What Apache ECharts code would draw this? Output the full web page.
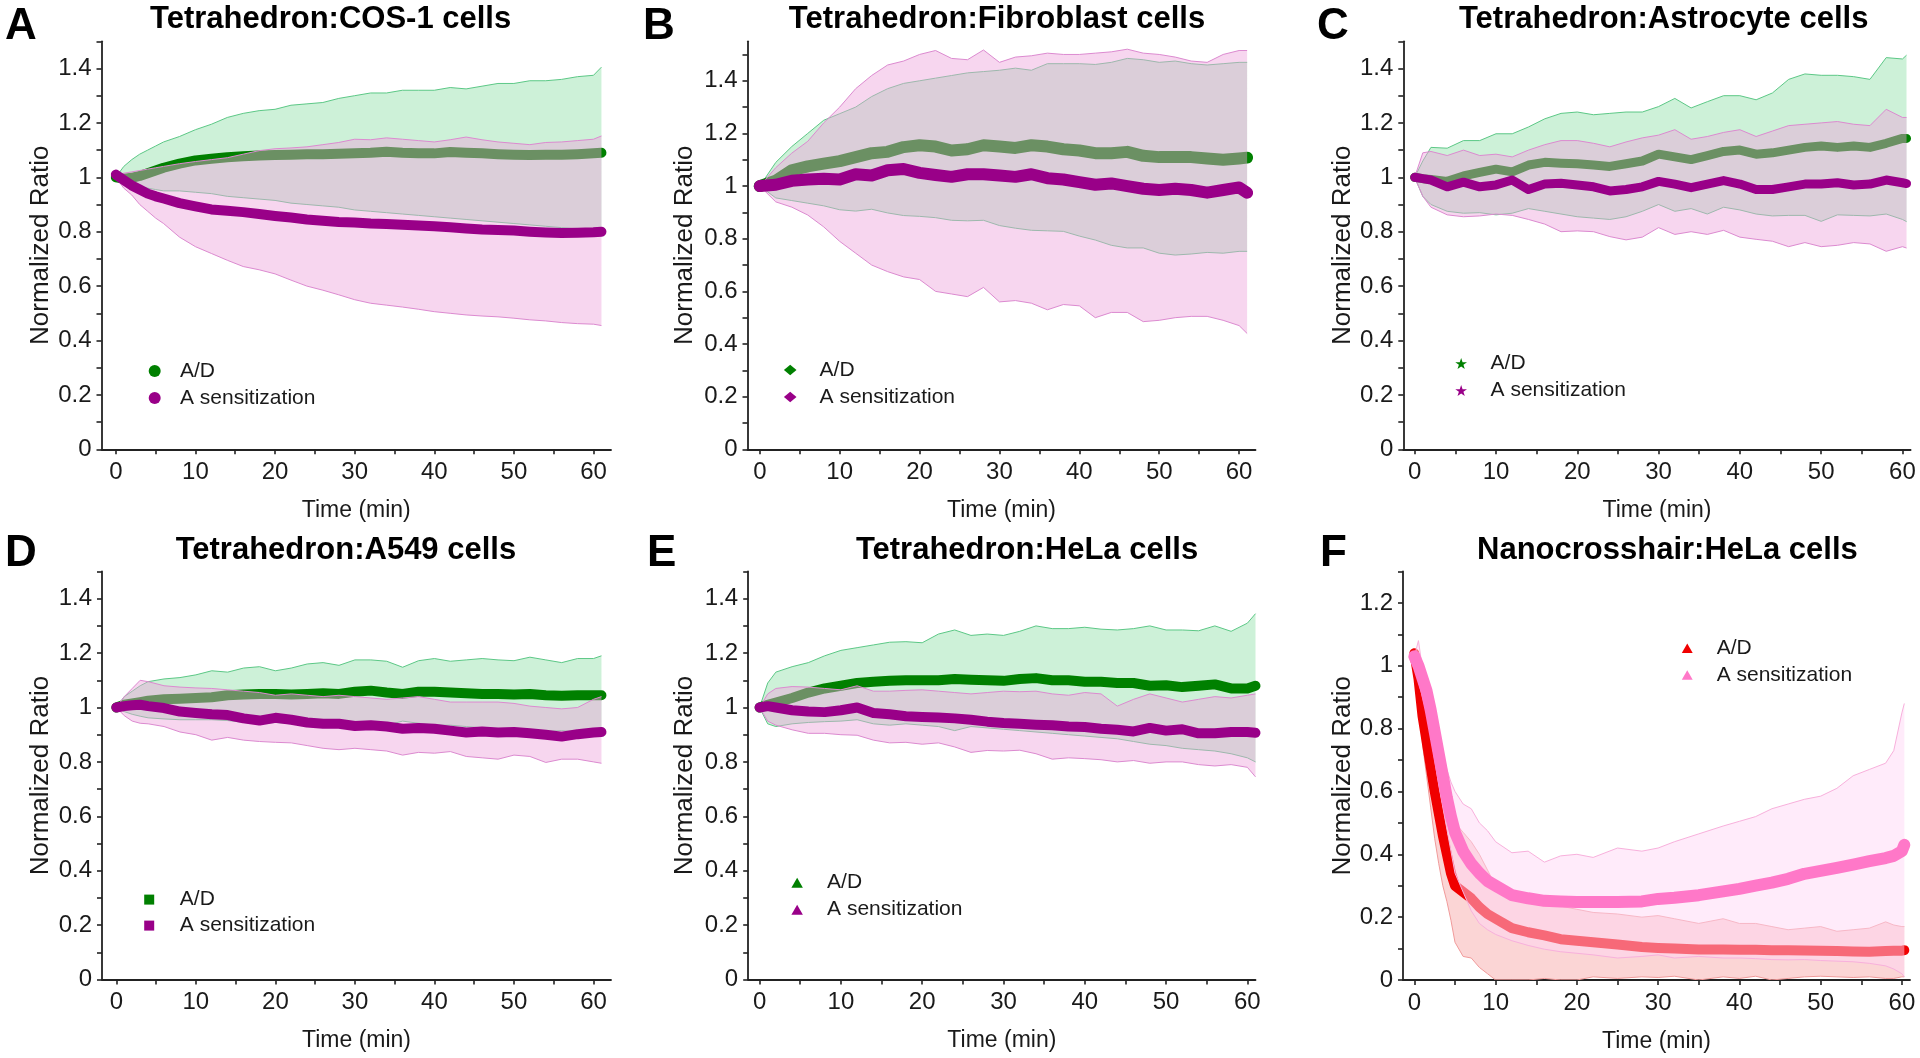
<!DOCTYPE html>
<html><head><meta charset="utf-8">
<script src="https://cdn.jsdelivr.net/npm/echarts@6/dist/echarts.min.js"></script>
<style>html,body{margin:0;padding:0;background:#fff}#chart{width:1920px;height:1058px}</style>
</head><body><div id="chart"></div>
<script>
// ---------------- DATA ----------------
// Panel A : Tetrahedron:COS-1 cells
const T_A = [0,1,2,3,4,5,6,8,10,12,14,16,18,20,22,24,26,28,30,32,34,36,38,40,42,44,46,48,50,52,54,56,58,60,61];
const A_AD_mean = [1.0,0.995,0.998,1.005,1.015,1.025,1.035,1.05,1.062,1.068,1.074,1.077,1.08,1.082,1.083,1.085,1.085,1.087,1.088,1.09,1.094,1.09,1.088,1.088,1.093,1.09,1.088,1.085,1.083,1.082,1.083,1.083,1.085,1.088,1.09];
const A_AD_hi = [1.0,1.04,1.065,1.085,1.1,1.115,1.13,1.15,1.175,1.195,1.22,1.235,1.245,1.25,1.265,1.27,1.275,1.29,1.3,1.31,1.31,1.32,1.32,1.32,1.33,1.325,1.335,1.345,1.345,1.355,1.355,1.36,1.37,1.375,1.405];
const A_AD_lo = [1.0,0.99,0.975,0.965,0.96,0.955,0.95,0.95,0.945,0.94,0.93,0.925,0.92,0.915,0.905,0.9,0.895,0.89,0.88,0.875,0.87,0.865,0.86,0.855,0.85,0.845,0.84,0.835,0.83,0.825,0.82,0.815,0.81,0.805,0.8];
const A_AS_mean = [1.01,0.99,0.97,0.955,0.94,0.93,0.922,0.905,0.893,0.882,0.877,0.872,0.865,0.858,0.852,0.845,0.84,0.836,0.834,0.83,0.828,0.826,0.823,0.82,0.816,0.812,0.808,0.806,0.804,0.8,0.797,0.795,0.796,0.798,0.8];
const A_AS_hi = [1.01,1.015,1.02,1.025,1.03,1.035,1.04,1.05,1.058,1.065,1.072,1.085,1.098,1.105,1.108,1.112,1.12,1.128,1.14,1.138,1.145,1.14,1.135,1.13,1.138,1.148,1.138,1.13,1.125,1.12,1.128,1.13,1.135,1.14,1.152];
const A_AS_lo = [1.0,0.96,0.935,0.9,0.875,0.85,0.83,0.78,0.745,0.72,0.695,0.672,0.66,0.645,0.622,0.6,0.585,0.568,0.55,0.537,0.53,0.523,0.515,0.506,0.5,0.494,0.49,0.487,0.482,0.476,0.472,0.466,0.462,0.46,0.455];

// Panel B : Tetrahedron:Fibroblast cells
const T_B = [0,2,4,6,8,10,12,14,16,18,20,22,24,26,28,30,32,34,36,38,40,42,44,46,48,50,52,54,56,58,60,61];
const B_AD_mean = [1.0,1.02,1.06,1.075,1.085,1.095,1.11,1.125,1.13,1.148,1.155,1.15,1.135,1.14,1.155,1.15,1.145,1.155,1.15,1.14,1.135,1.125,1.125,1.13,1.115,1.11,1.11,1.11,1.105,1.1,1.105,1.108];
const B_AD_hi = [1.0,1.09,1.15,1.2,1.25,1.275,1.3,1.34,1.37,1.39,1.4,1.41,1.42,1.43,1.435,1.44,1.448,1.44,1.465,1.465,1.465,1.462,1.47,1.485,1.48,1.47,1.475,1.465,1.46,1.465,1.47,1.47];
const B_AD_lo = [1.0,0.955,0.945,0.935,0.925,0.91,0.905,0.912,0.898,0.888,0.885,0.88,0.87,0.868,0.87,0.85,0.84,0.832,0.83,0.828,0.81,0.795,0.775,0.765,0.765,0.745,0.738,0.742,0.748,0.745,0.752,0.752];
const B_AS_mean = [1.0,1.005,1.02,1.025,1.028,1.025,1.045,1.04,1.06,1.065,1.05,1.042,1.035,1.045,1.045,1.04,1.035,1.045,1.03,1.025,1.015,1.005,1.01,1.0,0.99,0.985,0.99,0.985,0.975,0.985,0.995,0.975];
const B_AS_hi = [1.0,1.07,1.125,1.17,1.24,1.3,1.37,1.42,1.46,1.475,1.5,1.515,1.485,1.48,1.517,1.47,1.49,1.495,1.505,1.5,1.5,1.505,1.51,1.52,1.505,1.5,1.49,1.475,1.47,1.5,1.515,1.515];
const B_AS_lo = [1.0,0.94,0.92,0.89,0.845,0.79,0.745,0.7,0.675,0.655,0.645,0.6,0.59,0.58,0.615,0.56,0.565,0.555,0.53,0.55,0.545,0.5,0.52,0.52,0.485,0.49,0.5,0.505,0.505,0.49,0.47,0.44];

// Panel C : Tetrahedron:Astrocyte cells
const T_C = [0,1,2,4,6,8,10,12,14,16,18,20,22,24,26,28,30,32,34,36,38,40,42,44,46,48,50,52,54,56,58,60,60.5];
const C_AD_mean = [1.0,0.995,0.992,0.985,1.005,1.018,1.03,1.02,1.045,1.055,1.052,1.05,1.045,1.04,1.05,1.06,1.085,1.075,1.065,1.08,1.095,1.1,1.085,1.09,1.1,1.11,1.115,1.11,1.115,1.11,1.125,1.143,1.143];
const C_AD_hi = [1.0,1.06,1.11,1.107,1.135,1.135,1.16,1.16,1.185,1.215,1.235,1.24,1.23,1.235,1.24,1.24,1.26,1.29,1.255,1.278,1.3,1.3,1.285,1.31,1.36,1.38,1.375,1.375,1.37,1.36,1.44,1.435,1.449];
const C_AD_lo = [1.0,0.93,0.9,0.875,0.868,0.87,0.862,0.868,0.885,0.875,0.865,0.855,0.85,0.845,0.855,0.875,0.9,0.875,0.885,0.865,0.89,0.88,0.865,0.858,0.86,0.86,0.838,0.862,0.86,0.858,0.865,0.845,0.837];
const C_AS_mean = [1.0,0.995,0.99,0.965,0.982,0.965,0.972,0.99,0.955,0.975,0.978,0.972,0.965,0.95,0.955,0.965,0.985,0.975,0.962,0.975,0.988,0.975,0.955,0.955,0.965,0.975,0.975,0.98,0.972,0.975,0.99,0.98,0.977];
const C_AS_hi = [1.0,1.09,1.095,1.08,1.1,1.08,1.085,1.075,1.1,1.12,1.135,1.135,1.125,1.112,1.13,1.145,1.155,1.175,1.14,1.15,1.165,1.175,1.15,1.17,1.19,1.195,1.2,1.205,1.195,1.19,1.25,1.22,1.22];
const C_AS_lo = [1.0,0.93,0.89,0.862,0.855,0.858,0.865,0.86,0.845,0.828,0.8,0.803,0.8,0.782,0.77,0.78,0.815,0.79,0.8,0.79,0.805,0.78,0.772,0.765,0.745,0.76,0.745,0.75,0.76,0.755,0.728,0.745,0.74];

// Panel D : Tetrahedron:A549 cells
const T_D = [0,1,2,3,4,6,8,10,12,14,16,18,20,22,24,26,28,30,32,34,36,38,40,42,44,46,48,50,52,54,56,58,60,61];
const D_AD_mean = [1.0,1.01,1.015,1.02,1.025,1.03,1.032,1.035,1.038,1.045,1.048,1.05,1.05,1.048,1.05,1.052,1.05,1.058,1.062,1.055,1.05,1.058,1.058,1.055,1.052,1.05,1.05,1.048,1.05,1.045,1.043,1.045,1.045,1.045];
const D_AD_hi = [1.0,1.04,1.06,1.08,1.095,1.105,1.11,1.12,1.135,1.13,1.145,1.15,1.135,1.145,1.16,1.165,1.155,1.175,1.175,1.17,1.148,1.172,1.18,1.17,1.175,1.18,1.175,1.172,1.185,1.175,1.165,1.18,1.18,1.19];
const D_AD_lo = [1.0,0.985,0.975,0.968,0.962,0.958,0.955,0.955,0.955,0.952,0.945,0.94,0.945,0.94,0.935,0.935,0.93,0.94,0.945,0.935,0.95,0.942,0.935,0.935,0.93,0.925,0.922,0.92,0.915,0.912,0.915,0.91,0.905,0.9];
const D_AS_mean = [1.0,1.005,1.008,1.01,1.005,0.998,0.985,0.98,0.975,0.972,0.96,0.952,0.962,0.955,0.945,0.94,0.94,0.932,0.935,0.93,0.922,0.925,0.922,0.915,0.908,0.912,0.908,0.91,0.905,0.9,0.893,0.902,0.908,0.91];
const D_AS_hi = [1.0,1.04,1.07,1.1,1.095,1.08,1.075,1.072,1.07,1.065,1.06,1.055,1.045,1.05,1.045,1.04,1.045,1.04,1.035,1.03,1.035,1.04,1.03,1.02,1.02,1.02,1.02,1.015,1.005,1.0,0.995,1.0,1.03,1.04];
const D_AS_lo = [1.0,0.97,0.95,0.942,0.94,0.93,0.91,0.9,0.88,0.89,0.88,0.875,0.872,0.87,0.86,0.85,0.845,0.85,0.845,0.84,0.825,0.835,0.832,0.838,0.82,0.815,0.81,0.825,0.82,0.798,0.81,0.81,0.8,0.795];

// Panel E : Tetrahedron:HeLa cells
const T_E = [0,1,2,4,6,8,10,12,14,16,18,20,22,24,26,28,30,32,34,36,38,40,42,44,46,48,50,52,54,56,58,60,61];
const E_AD_mean = [1.0,1.01,1.018,1.035,1.055,1.07,1.08,1.09,1.095,1.098,1.1,1.1,1.1,1.105,1.102,1.1,1.098,1.105,1.108,1.1,1.1,1.095,1.095,1.09,1.09,1.08,1.082,1.075,1.08,1.085,1.07,1.07,1.08];
const E_AD_hi = [1.0,1.09,1.13,1.15,1.165,1.19,1.21,1.22,1.23,1.24,1.242,1.238,1.27,1.285,1.265,1.27,1.265,1.28,1.3,1.29,1.29,1.295,1.288,1.285,1.29,1.3,1.285,1.285,1.282,1.3,1.28,1.31,1.345];
const E_AD_lo = [1.0,0.94,0.93,0.94,0.945,0.948,0.95,0.955,0.94,0.935,0.94,0.935,0.93,0.915,0.93,0.925,0.92,0.915,0.91,0.905,0.9,0.895,0.89,0.885,0.875,0.865,0.86,0.85,0.845,0.84,0.83,0.815,0.8];
const E_AS_mean = [1.0,1.005,1.0,0.99,0.985,0.983,0.99,1.0,0.98,0.975,0.968,0.965,0.963,0.96,0.955,0.948,0.943,0.94,0.937,0.935,0.93,0.928,0.922,0.918,0.912,0.925,0.915,0.92,0.905,0.905,0.91,0.91,0.907];
const E_AS_hi = [1.0,1.05,1.07,1.077,1.075,1.07,1.065,1.08,1.06,1.06,1.063,1.065,1.06,1.055,1.05,1.055,1.06,1.058,1.06,1.05,1.045,1.055,1.05,1.005,1.03,1.05,1.035,1.02,1.03,1.04,1.035,1.045,1.05];
const E_AS_lo = [1.0,0.95,0.935,0.918,0.905,0.905,0.9,0.898,0.88,0.87,0.872,0.865,0.87,0.855,0.835,0.842,0.84,0.843,0.83,0.81,0.815,0.812,0.808,0.8,0.805,0.795,0.8,0.8,0.79,0.785,0.79,0.78,0.745];

// Panel F : Nanocrosshair:HeLa cells
const T_F = [0,0.5,1,1.5,2,2.5,3,3.5,4,4.5,5,6,7,8,9,10,12,14,16,18,20,22,25,28,30,32,35,38,40,42,44,46,48,50,52,54,56,58,59,60,60.3];
const F_AD_mean = [1.04,0.96,0.84,0.76,0.68,0.6,0.53,0.46,0.4,0.34,0.3,0.28,0.26,0.232,0.21,0.195,0.165,0.152,0.142,0.13,0.125,0.12,0.113,0.105,0.102,0.1,0.097,0.097,0.096,0.096,0.095,0.095,0.094,0.093,0.092,0.091,0.09,0.092,0.093,0.093,0.095];
const F_AD_hi = [1.05,1.0,0.93,0.88,0.82,0.76,0.7,0.64,0.58,0.54,0.5,0.47,0.44,0.4,0.35,0.3,0.26,0.245,0.235,0.235,0.225,0.215,0.21,0.2,0.205,0.195,0.18,0.195,0.18,0.18,0.17,0.16,0.165,0.17,0.155,0.16,0.165,0.185,0.175,0.17,0.17];
const F_AD_lo = [1.03,0.92,0.75,0.65,0.55,0.45,0.37,0.3,0.25,0.19,0.12,0.075,0.07,0.04,0.02,0.0,0.0,0.0,0.005,0.0,0.0,0.01,0.005,0.01,0.008,0.012,0.0,0.01,0.005,0.012,0.0,0.005,0.01,0.012,0.01,0.008,0.01,0.005,0.005,0.01,0.01];
const F_AS_mean = [1.03,1.0,0.96,0.92,0.86,0.79,0.72,0.65,0.58,0.52,0.47,0.41,0.37,0.34,0.315,0.3,0.27,0.26,0.252,0.25,0.248,0.248,0.248,0.25,0.258,0.262,0.27,0.282,0.29,0.3,0.31,0.322,0.338,0.347,0.357,0.367,0.378,0.388,0.395,0.41,0.43];
const F_AS_hi = [1.03,1.08,0.99,0.95,0.9,0.84,0.78,0.72,0.67,0.63,0.6,0.56,0.545,0.5,0.475,0.44,0.405,0.41,0.375,0.395,0.4,0.39,0.42,0.41,0.42,0.44,0.465,0.49,0.505,0.52,0.545,0.56,0.575,0.585,0.61,0.65,0.67,0.69,0.73,0.85,0.88];
const F_AS_lo = [1.02,0.95,0.9,0.85,0.78,0.7,0.62,0.55,0.48,0.41,0.34,0.28,0.22,0.18,0.16,0.145,0.125,0.11,0.098,0.09,0.085,0.08,0.07,0.075,0.08,0.07,0.075,0.07,0.07,0.068,0.065,0.064,0.065,0.062,0.06,0.058,0.053,0.045,0.035,0.02,0.01];

// tick values
const X_LABELS = [0,10,20,30,40,50,60];
const X_TICKS = [0,5,10,15,20,25,30,35,40,45,50,55,60];
const Y_LABELS_14 = [0,0.2,0.4,0.6,0.8,1,1.2,1.4];
const Y_TICKS_15 = [0,0.1,0.2,0.3,0.4,0.5,0.6,0.7,0.8,0.9,1,1.1,1.2,1.3,1.4,1.5];
const Y_LABELS_12 = [0,0.2,0.4,0.6,0.8,1,1.2];
const Y_TICKS_13 = [0,0.1,0.2,0.3,0.4,0.5,0.6,0.7,0.8,0.9,1,1.1,1.2,1.3];

const SERIES_NAMES = ['A/D','A sensitization'];

// ---------------- STYLE / LAYOUT ----------------
const FONT = '"Liberation Sans", Arial, Helvetica, sans-serif';
const INK = '#1a1a1a';
const AXIS = '#222222';
const SYM = {
  circle:'path://M50,0A50,50,0,1,1,50,100A50,50,0,1,1,50,0Z',
  diamond:'path://M60,0L120,50L60,100L0,50Z',
  star:'path://M50,0L61.8,35.1L98.9,35.1L68.9,56.8L80.3,91.9L50,70.2L19.7,91.9L31.1,56.8L1.1,35.1L38.2,35.1Z',
  square:'path://M0,0L100,0L100,100L0,100Z',
  triangle:'path://M50,0L100,87L0,87Z'
};
const TETRA = {
  line1:'#008000', line2:'#990088',
  fill1:'rgba(100,210,135,0.32)', edge1:'#5cc886',
  fill2:'rgba(237,164,219,0.45)', edge2:'#dc8ad0'
};
const NANO = {
  line1:'#f00000', line2:'#ff78c8',
  fill1:'rgba(245,150,150,0.4)', edge1:'#f09a9a',
  fill2:'rgba(255,214,245,0.49)', edge2:'#f8b0dc'
};

const PANELS = [
  {letter:'A', title:'Tetrahedron:COS-1 cells', T:T_A, s1:[A_AD_mean,A_AD_lo,A_AD_hi], s2:[A_AS_mean,A_AS_lo,A_AS_hi],
   grid:{left:101.5, top:41.3, width:509.5, height:408}, x:[-1.8,62.2], ymax:1.5, yLab:Y_LABELS_14, yTick:Y_TICKS_15,
   col:TETRA, lw:[10,10], sym:SYM.circle, leg:{left:148.7, top:359, W:40.6, H:12, gap:3},
   titleX:330.6, titleY:19.5, letterX:5, letterY:27, yGap:47.5},
  {letter:'B', title:'Tetrahedron:Fibroblast cells', T:T_B, s1:[B_AD_mean,B_AD_lo,B_AD_hi], s2:[B_AS_mean,B_AS_lo,B_AS_hi],
   grid:{left:747.5, top:41.3, width:508, height:408}, x:[-1.54,62.05], ymax:1.55, yLab:Y_LABELS_14, yTick:Y_TICKS_15,
   col:TETRA, lw:[12,12], sym:SYM.diamond, leg:{left:783.9, top:358, W:48.8, H:10.5, gap:3},
   titleX:997, titleY:19.5, letterX:643, letterY:27, yGap:50},
  {letter:'C', title:'Tetrahedron:Astrocyte cells', T:T_C, s1:[C_AD_mean,C_AD_lo,C_AD_hi], s2:[C_AS_mean,C_AS_lo,C_AS_hi],
   grid:{left:1403.3, top:41.3, width:507.3, height:408}, x:[-1.4,61.0], ymax:1.5, yLab:Y_LABELS_14, yTick:Y_TICKS_15,
   col:TETRA, lw:[9,9], sym:SYM.star, leg:{left:1455.3, top:351.5, W:48.8, H:11, gap:3},
   titleX:1663.7, titleY:19.5, letterX:1317, letterY:27, yGap:46.4},
  {letter:'D', title:'Tetrahedron:A549 cells', T:T_D, s1:[D_AD_mean,D_AD_lo,D_AD_hi], s2:[D_AS_mean,D_AS_lo,D_AS_hi],
   grid:{left:102, top:571.5, width:509, height:408}, x:[-1.8,62.2], ymax:1.5, yLab:Y_LABELS_14, yTick:Y_TICKS_15,
   col:TETRA, lw:[10,10], sym:SYM.square, leg:{left:144.2, top:887.6, W:51.2, H:10, gap:2},
   titleX:345.9, titleY:550.5, letterX:5, letterY:554, yGap:48.2},
  {letter:'E', title:'Tetrahedron:HeLa cells', T:T_E, s1:[E_AD_mean,E_AD_lo,E_AD_hi], s2:[E_AS_mean,E_AS_lo,E_AS_hi],
   grid:{left:748.2, top:571.5, width:507.3, height:408}, x:[-1.4,61.0], ymax:1.5, yLab:Y_LABELS_14, yTick:Y_TICKS_15,
   col:TETRA, lw:[10,10], sym:SYM.triangle, leg:{left:791.4, top:870.7, W:49.8, H:10, gap:3},
   titleX:1027, titleY:550.5, letterX:647, letterY:554, yGap:50.7},
  {letter:'F', title:'Nanocrosshair:HeLa cells', T:T_F, s1:[F_AD_mean,F_AD_lo,F_AD_hi], s2:[F_AS_mean,F_AS_lo,F_AS_hi],
   grid:{left:1403, top:571.5, width:507, height:408.5}, x:[-1.4,61.0], ymax:1.3, yLab:Y_LABELS_12, yTick:Y_TICKS_13,
   col:NANO, lw:[10,12], sym:SYM.triangle, leg:{left:1681.8, top:636.3, W:48.8, H:9.5, gap:2.7},
   titleX:1667.4, titleY:550.5, letterX:1320, letterY:554, yGap:46.4}
];

const option = {animation:false, backgroundColor:'#ffffff', grid:[], xAxis:[], yAxis:[], series:[], legend:[], graphic:[]};

function pairs(T, arr){ return T.map((t,i)=>[t, arr[i]]); }

PANELS.forEach((p, gi) => {
  option.grid.push(Object.assign({containLabel:false, outerBoundsMode:'none'}, p.grid));
  const tickStyle = {color:AXIS, width:1.6};
  option.xAxis.push({
    type:'value', gridIndex:gi, position:'bottom', min:p.x[0], max:p.x[1],
    axisLine:{show:true, onZero:false, lineStyle:{color:AXIS, width:1.8}},
    axisTick:{show:true, inside:false, length:5, lineStyle:tickStyle, customValues:X_TICKS},
    axisLabel:{show:true, customValues:X_LABELS, fontSize:24, color:INK, fontFamily:FONT, margin:11},
    splitLine:{show:false}, minorTick:{show:false},
    name:'Time (min)', nameLocation:'middle', nameGap:50,
    nameTextStyle:{fontSize:23, color:INK, fontFamily:FONT}
  });
  option.yAxis.push({
    type:'value', gridIndex:gi, position:'left', min:0, max:p.ymax,
    axisLine:{show:true, onZero:false, lineStyle:{color:AXIS, width:1.8}},
    axisTick:{show:true, inside:false, length:5, lineStyle:tickStyle, customValues:p.yTick},
    axisLabel:{show:true, customValues:p.yLab, fontSize:24, color:INK, fontFamily:FONT, margin:10},
    splitLine:{show:false}, minorTick:{show:false},
    name:'Normalized Ratio', nameLocation:'middle', nameGap:p.yGap,
    nameTextStyle:{fontSize:26, color:INK, fontFamily:FONT}
  });
  const xi = gi, yi = gi;
  // shaded band (mean ± SD) drawn as one polygon through the axis scales
  const addBand = (id, lo, hi, edge, fill, z) => {
    const rows = p.T.map((t,i)=>[t, lo[i], hi[i]]);
    option.series.push({
      type:'custom', name:id, xAxisIndex:xi, yAxisIndex:yi, coordinateSystem:'cartesian2d',
      data:rows, encode:{x:0, y:[1,2]}, silent:true, clip:true, z:z,
      renderItem:(params, api) => {
        if (params.dataIndex !== 0) return null;
        const top = rows.map(r => api.coord([r[0], r[2]]));
        const bot = rows.map(r => api.coord([r[0], r[1]]));
        return {type:'group', children:[
          {type:'polygon', shape:{points: top.concat(bot.slice().reverse())}, style:{fill:fill, stroke:null}},
          {type:'polyline', shape:{points: top}, style:{stroke:edge, lineWidth:1, fill:null}},
          {type:'polyline', shape:{points: bot}, style:{stroke:edge, lineWidth:1, fill:null}}
        ]};
      }
    });
  };
  const addMean = (name, mean, color, lw, z) => {
    option.series.push({
      type:'line', name:name, xAxisIndex:xi, yAxisIndex:yi, data:pairs(p.T, mean),
      symbol:'none', silent:true, color:color, itemStyle:{color:color},
      lineStyle:{color:color, width:lw, cap:'round', join:'round'}, z:z
    });
  };
  const n1 = p.letter + '|' + SERIES_NAMES[0];
  const n2 = p.letter + '|' + SERIES_NAMES[1];
  addBand(p.letter+'band1', p.s1[1], p.s1[2], p.col.edge1, p.col.fill1, 3);
  addMean(n1, p.s1[0], p.col.line1, p.lw[0], 4);
  addBand(p.letter+'band2', p.s2[1], p.s2[2], p.col.edge2, p.col.fill2, 5);
  addMean(n2, p.s2[0], p.col.line2, p.lw[1], 6);

  option.legend.push({
    orient:'vertical', left:p.leg.left, top:p.leg.top, padding:0,
    itemWidth:p.leg.W, itemHeight:p.leg.H, itemGap:p.leg.gap, selectedMode:false,
    data:[{name:n1, icon:p.sym, itemStyle:{color:p.col.line1}}, {name:n2, icon:p.sym, itemStyle:{color:p.col.line2}}],
    formatter:(n)=>n.split('|')[1],
    textStyle:{fontSize:21, color:INK, fontFamily:FONT, lineHeight:24}
  });
  option.graphic.push({type:'text', x:p.titleX, y:p.titleY, silent:true,
    style:{text:p.title, fontSize:31, fontWeight:'bold', fontFamily:FONT, fill:'#000', align:'center', verticalAlign:'middle'}});
  option.graphic.push({type:'text', x:p.letterX, y:p.letterY, silent:true,
    style:{text:p.letter, fontSize:44, fontWeight:'bold', fontFamily:FONT, fill:'#000', align:'left', verticalAlign:'middle'}});
});

const chart = echarts.init(document.getElementById('chart'), null, {renderer:'canvas'});
chart.setOption(option);
</script></body></html>
